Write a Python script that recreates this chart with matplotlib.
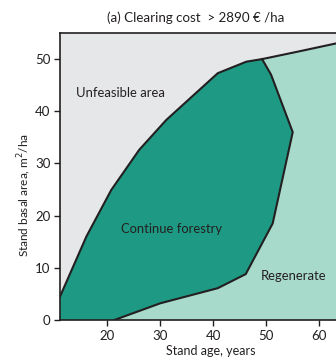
import matplotlib.pyplot as plt
from matplotlib.patches import Polygon

# Boundary between "Unfeasible area" and "Continue forestry"
upper_age = [11.0, 16.0, 20.7, 26.0, 31.1, 36.1, 40.9, 46.3, 49.3]
upper_ba = [4.5, 16.0, 24.9, 32.6, 38.3, 42.9, 47.3, 49.5, 50.0]

# Boundary between "Continue forestry" and "Regenerate" (top to bottom)
lower_age = [49.3, 51.0, 55.1, 51.3, 46.2, 40.9, 30.0, 21.3]
lower_ba = [50.0, 47.0, 36.0, 18.5, 8.8, 6.1, 3.2, 0.0]

# Boundary between "Unfeasible area" and "Regenerate"
regen_age = [49.3, 56.4, 63.3]
regen_ba = [50.0, 51.5, 53.0]

x_min, x_max = 11.0, 63.3
y_min, y_max = 0.0, 55.0

c_unf = '#e6e7e9'
c_cont = '#1e9a84'
c_regen = '#a8dacb'
c_line = '#231f20'

plt.rcParams['font.family'] = ['Lato', 'DejaVu Sans']

fig = plt.figure(figsize=(3.36, 3.57), dpi=100)
ax = fig.add_axes([60 / 336, 1 - 320 / 357, 1 - 60 / 336, (320 - 33) / 357])
ax.set_facecolor(c_unf)

# zonas
cont_pts = list(zip(upper_age, upper_ba)) + list(zip(lower_age[1:], lower_ba[1:])) + [(x_min, 0.0)]
ax.add_patch(Polygon(cont_pts, closed=True, facecolor=c_cont, edgecolor='none'))

regen_pts = list(zip(lower_age[::-1], lower_ba[::-1]))[:-1] + list(zip(regen_age, regen_ba)) + [(x_max, 0.0)]
ax.add_patch(Polygon(regen_pts, closed=True, facecolor=c_regen, edgecolor='none'))

for xs, ys in [(upper_age, upper_ba), (lower_age, lower_ba), (regen_age, regen_ba)]:
    ax.plot(xs, ys, color=c_line, lw=1.5, solid_joinstyle='miter')

ax.text(14.1, 43.5, 'Unfeasible area', fontsize=9.4, color=c_line, va='center', ha='left')
ax.text(32.1, 17.4, 'Continue forestry', fontsize=9.4, color=c_line, va='center', ha='center')
ax.text(55.3, 8.4, 'Regenerate', fontsize=9.4, color=c_line, va='center', ha='center')

ax.set_xlim(x_min, x_max)
ax.set_ylim(y_min, y_max)
ax.set_xticks([20, 30, 40, 50, 60])
ax.set_yticks([0, 10, 20, 30, 40, 50])
ax.tick_params(direction='out', length=4, width=1, colors=c_line, labelsize=9.5, pad=3)
ax.spines['right'].set_visible(False)
for s in ['left', 'bottom', 'top']:
    ax.spines[s].set_color(c_line)
    ax.spines[s].set_linewidth(1.2)

ax.set_xlabel('Stand age, years', fontsize=9, color=c_line)
ax.set_ylabel('Stand basal area, m$^2$/ha', fontsize=8.5, color=c_line)
ax.xaxis.set_label_coords(0.547, -0.088)
ax.yaxis.set_label_coords(-0.098, 0.436)

fig.text(196 / 336, 1 - 18 / 357, '(a) Clearing cost  > 2890 € /ha', fontsize=9.6,
         color=c_line, ha='center', va='center')

fig.savefig('out.png', dpi=100)
